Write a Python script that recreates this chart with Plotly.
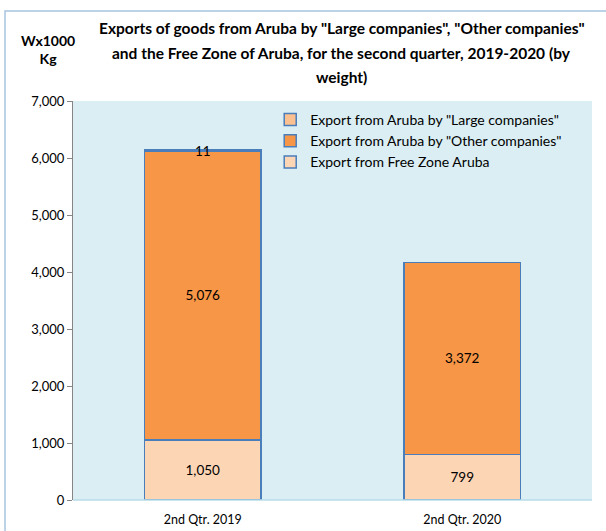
import plotly.graph_objects as go

categories = ["2nd Qtr. 2019", "2nd Qtr. 2020"]
free_zone = [1050, 799]
other_companies = [5076, 3372]
large_companies = [11, 0]
y_ticks = [0, 1000, 2000, 3000, 4000, 5000, 6000, 7000]
title_lines = [
    'Exports of goods from Aruba by "Large companies", "Other companies"',
    "and the Free Zone of Aruba, for the second quarter, 2019-2020 (by",
    "weight)",
]

FONT = "Lato"
EDGE = "#4A7EBB"


def labels(values):
    return [f"{v:,}" if v > 0 else "" for v in values]


def bar(values, name, color):
    return go.Bar(
        x=categories, y=values, name=name,
        marker=dict(color=color, line=dict(color=EDGE, width=1.5)),
        text=labels(values), textposition="inside", insidetextanchor="middle",
        textangle=0, constraintext="none",
        textfont=dict(family=FONT, size=13.5, color="black"),
    )


fig = go.Figure()
fig.add_trace(bar(free_zone, "Export from Free Zone Aruba", "#FCD5B5"))
fig.add_trace(bar(other_companies, 'Export from Aruba by "Other companies"', "#F79646"))
fig.add_trace(bar(large_companies, 'Export from Aruba by "Large companies"', "#FAC090"))

# title lines spaced like the original (one annotation per line)
title_notes = [
    dict(text=f"<b>{line}</b>", xref="paper", yref="paper",
         x=0.518, y=(500 - py) / 399, xanchor="center", yanchor="middle",
         showarrow=False, font=dict(family=FONT, size=15.5))
    for line, py in zip(title_lines, [28, 53, 77])
]

fig.update_layout(
    width=606, height=531,
    barmode="stack", bargap=0.55,
    paper_bgcolor="white", plot_bgcolor="#DAEEF3",
    margin=dict(l=73, r=14, t=101, b=31, autoexpand=False),
    font=dict(family=FONT, size=12, color="black"),
    showlegend=True,
    xaxis=dict(showline=False, ticks="", tickfont=dict(size=12.5),
               ticklabelstandoff=10, automargin=False),
    yaxis=dict(
        range=[0, 7000], tickvals=y_ticks, tickformat=",",
        showgrid=False, showline=True, linecolor="#868686", linewidth=1,
        ticks="outside", ticklen=5, tickcolor="#868686",
        tickfont=dict(size=13), zeroline=False, automargin=False,
    ),
    legend=dict(
        x=0.380, y=0.9925, xanchor="left", yanchor="top",
        traceorder="reversed", bgcolor="rgba(0,0,0,0)",
        font=dict(family=FONT, size=14), tracegroupgap=0,
        itemwidth=30,
    ),
    annotations=title_notes + [
        dict(
            text="<b>Wx1000<br>Kg</b>", xref="paper", yref="paper",
            x=-0.048, y=1.13, xanchor="center", yanchor="middle",
            showarrow=False, font=dict(family=FONT, size=14),
        ),
    ],
    shapes=[
        dict(type="line", xref="paper", yref="paper", x0=0, x1=1, y0=0, y1=0,
             line=dict(color="#B7DDE8", width=1.5)),
        dict(type="rect", xref="paper", yref="paper",
             x0=-0.131, x1=1.05, y0=-0.2, y1=1.2256,
             line=dict(color="#A6C4E0", width=1.5)),
    ],
)

fig.write_html(
    "out.html",
    config={"displayModeBar": False},
    post_script="document.body.style.margin='0px';",
)
